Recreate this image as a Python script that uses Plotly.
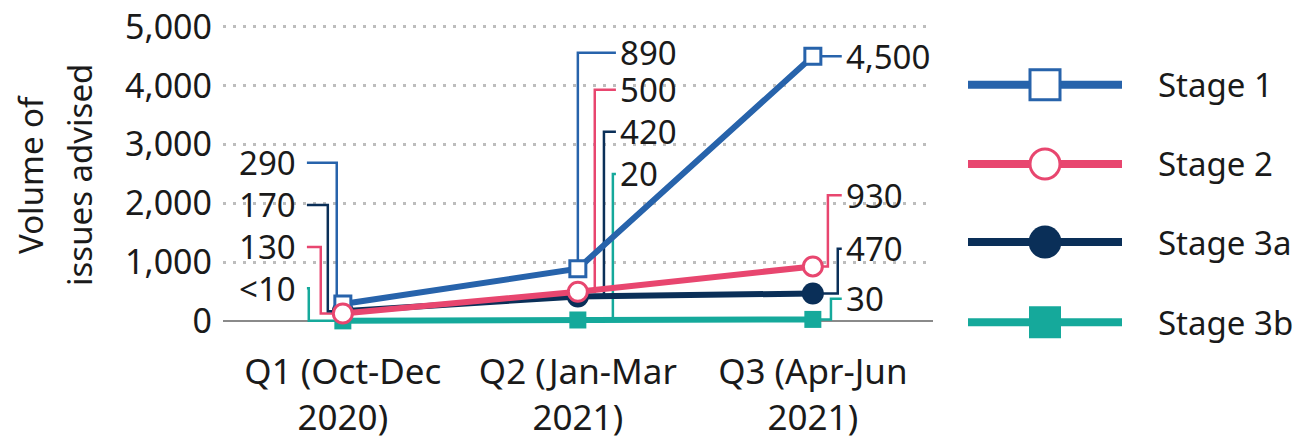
import plotly.graph_objects as go

# ---------------- data ----------------
categories = ["Q1 (Oct-Dec<br>2020)", "Q2 (Jan-Mar<br>2021)", "Q3 (Apr-Jun<br>2021)"]
series_names = ["Stage 1", "Stage 2", "Stage 3a", "Stage 3b"]
stage1 = [290, 890, 4500]
stage2 = [130, 500, 930]
stage3a = [170, 420, 470]
stage3b = [5, 20, 30]          # Q1 value shown as "<10"
stage1_labels = ["290", "890", "4,500"]
stage2_labels = ["130", "500", "930"]
stage3a_labels = ["170", "420", "470"]
stage3b_labels = ["<10", "20", "30"]
y_ticks = [0, 1000, 2000, 3000, 4000, 5000]
y_tick_labels = ["0", "1,000", "2,000", "3,000", "4,000", "5,000"]
y_title_lines = ["Volume of", "issues advised"]

# ---------------- styles ----------------
FONT = "Noto Sans"
FS = 33
TXT = "#1a1a1a"
colors = {"Stage 1": "#2763ab", "Stage 2": "#e8466f", "Stage 3a": "#0a2f58", "Stage 3b": "#15a99b"}
values = {"Stage 1": stage1, "Stage 2": stage2, "Stage 3a": stage3a, "Stage 3b": stage3b}
labels = {"Stage 1": stage1_labels, "Stage 2": stage2_labels, "Stage 3a": stage3a_labels, "Stage 3b": stage3b_labels}
marker_style = {
    "Stage 1": dict(symbol="square", size=16, color="white", line=dict(color=colors["Stage 1"], width=3)),
    "Stage 2": dict(symbol="circle", size=19, color="white", line=dict(color=colors["Stage 2"], width=3)),
    "Stage 3a": dict(symbol="circle", size=22, color=colors["Stage 3a"], line=dict(width=0)),
    "Stage 3b": dict(symbol="square", size=17, color=colors["Stage 3b"], line=dict(width=0)),
}
legend_marker = {
    "Stage 1": dict(symbol="square", size=30, color="white", line=dict(color=colors["Stage 1"], width=3)),
    "Stage 2": dict(symbol="circle", size=30, color="white", line=dict(color=colors["Stage 2"], width=3)),
    "Stage 3a": dict(symbol="circle", size=33, color=colors["Stage 3a"], line=dict(width=0)),
    "Stage 3b": dict(symbol="square", size=32, color=colors["Stage 3b"], line=dict(width=0)),
}

# label layout (category-unit offsets / label heights), per quarter
label_layout = {
    0: dict(side="left", text_x=-0.19, end_x=-0.153,
            y={"Stage 1": 2690, "Stage 3a": 1975, "Stage 2": 1260, "Stage 3b": 560},
            elbow={"Stage 1": -0.026, "Stage 3a": -0.064, "Stage 2": -0.094, "Stage 3b": -0.145}),
    1: dict(side="right", text_x=0.172, end_x=0.162,
            y={"Stage 1": 4560, "Stage 2": 3930, "Stage 3a": 3215, "Stage 3b": 2500},
            elbow={"Stage 1": 0.0, "Stage 2": 0.072, "Stage 3a": 0.111, "Stage 3b": 0.149}),
    2: dict(side="right", text_x=0.133, end_x=0.123,
            y={"Stage 1": None, "Stage 2": 2140, "Stage 3a": 1230, "Stage 3b": 380},
            elbow={"Stage 1": 0.123, "Stage 2": 0.064, "Stage 3a": 0.106, "Stage 3b": 0.077}),
}

# page geometry: the page body has an 8px margin, so the figure is offset by 8px
OFF = 8
W, H = 1301 - OFF, 441 - OFF
L = 223 - OFF
plot_w = 709.7
top_px, bot_px = 15.24 - OFF, 329.8 - OFF

fig = go.Figure()
xpos = list(range(len(categories)))

annotations = []
for name in series_names:
    for i in xpos:
        lay = label_layout[i]
        v = values[name][i]
        ly = lay["y"][name] if lay["y"][name] is not None else v
        ex = i + lay["elbow"][name]
        endx = i + lay["end_x"]
        fig.add_trace(go.Scatter(
            x=[i, ex, ex, endx], y=[v, v, ly, ly], mode="lines",
            line=dict(color=colors[name], width=2.5), hoverinfo="skip",
            showlegend=False, cliponaxis=False, xaxis="x", yaxis="y"))
        annotations.append(dict(
            x=i + lay["text_x"], y=ly, xref="x", yref="y", text=labels[name][i],
            showarrow=False, xanchor="right" if lay["side"] == "left" else "left",
            yanchor="middle", font=dict(family=FONT, size=FS, color=TXT)))

for name in ["Stage 3b", "Stage 3a", "Stage 1", "Stage 2"]:
    fig.add_trace(go.Scatter(
        x=xpos, y=values[name], mode="lines+markers", name=name,
        line=dict(color=colors[name], width=6), marker=marker_style[name],
        showlegend=False, cliponaxis=False, xaxis="x", yaxis="y"))

# custom legend on a secondary, hidden axis pair (figure-pixel units)
legend_rows = [85 - OFF, 164 - OFF, 242 - OFF, 322 - OFF]
leg_x0, leg_x1, leg_xm, leg_tx = 968 - OFF, 1122 - OFF, 1045 - OFF, 1156 - OFF
for name, ry in zip(series_names, legend_rows):
    fig.add_trace(go.Scatter(
        x=[leg_x0, leg_x1], y=[ry, ry], mode="lines", line=dict(color=colors[name], width=8),
        hoverinfo="skip", showlegend=False, cliponaxis=False, xaxis="x2", yaxis="y2"))
    fig.add_trace(go.Scatter(
        x=[leg_xm], y=[ry], mode="markers", marker=legend_marker[name],
        hoverinfo="skip", showlegend=False, cliponaxis=False, xaxis="x2", yaxis="y2"))
    annotations.append(dict(
        x=leg_tx, y=ry, xref="x2", yref="y2", text=name, showarrow=False,
        xanchor="left", yanchor="middle", font=dict(family=FONT, size=FS, color=TXT)))

# y-axis title, two lines placed separately (pixel centres converted to paper)
for line_text, cx in zip(y_title_lines, [31 - OFF, 80 - OFF]):
    annotations.append(dict(
        x=(cx - L) / (W - L), y=(bot_px - (175 - OFF)) / (bot_px - top_px),
        xref="paper", yref="paper",
        text=line_text, textangle=-90, showarrow=False, xanchor="center", yanchor="middle",
        font=dict(family=FONT, size=FS, color=TXT)))

fig.update_layout(
    width=W, height=H,
    margin=dict(l=L, r=0, t=top_px, b=H - bot_px, pad=0, autoexpand=False),
    paper_bgcolor="white", plot_bgcolor="white",
    font=dict(family=FONT, size=FS, color=TXT),
    showlegend=False,
    xaxis=dict(domain=[0, plot_w / (W - L)], range=[-0.51, 2.51], tickvals=xpos,
               ticktext=categories, showgrid=False, zeroline=False, showline=False,
               ticks="", ticklabelstandoff=18, automargin=False, ticklabeloverflow="allow",
               tickfont=dict(family=FONT, size=35, color=TXT), fixedrange=True),
    yaxis=dict(range=[-150, 5200], tickvals=y_ticks, ticktext=y_tick_labels,
               showgrid=True, gridcolor="#bdbdbd", gridwidth=3, griddash="3px,7px",
               zeroline=True, zerolinecolor="#8a8a8a", zerolinewidth=2,
               showline=False, ticks="", ticklabelstandoff=10, automargin=False,
               ticklabeloverflow="allow",
               tickfont=dict(family=FONT, size=34, color=TXT), fixedrange=True),
    xaxis2=dict(domain=[plot_w / (W - L), 1], range=[L + plot_w, W], anchor="y2",
                visible=False, fixedrange=True, automargin=False),
    yaxis2=dict(domain=[0, 1], range=[bot_px, top_px], anchor="x2", visible=False,
                fixedrange=True, automargin=False),
    annotations=annotations,
)

fig.write_html("out.html")
